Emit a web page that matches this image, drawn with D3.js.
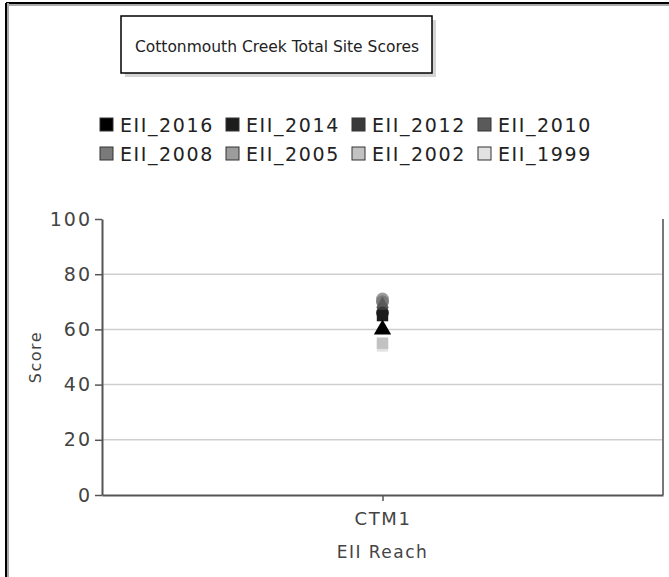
<!DOCTYPE html>
<html>
<head>
<meta charset="utf-8">
<script src="https://cdn.jsdelivr.net/npm/d3@7"></script>
<style>
  body { margin: 0; background: #fff; }
  text { font-family: "DejaVu Sans", sans-serif; }
</style>
</head>
<body>
<div id="chart"></div>
<script>
// chart values
var title = "Cottonmouth Creek Total Site Scores";
var seriesNames = ["EII_2016", "EII_2014", "EII_2012", "EII_2010", "EII_2008", "EII_2005", "EII_2002", "EII_1999"];
var sites = ["CTM1"];
var scores = [60, 65, 66, 68, 70, 71, 55, 54];
var yTicks = [0, 20, 40, 60, 80, 100];
var xTitle = "EII Reach";
var yTitle = "Score";

(function() {
  var width = 669, height = 577;
  var plot = { left: 102, right: 663, top: 219, bottom: 495 };

  var svg = d3.select("#chart")
    .append("svg")
    .attr("width", width)
    .attr("height", height);

  // outer frame (top + left edges visible)
  svg.append("line").attr("x1", 6).attr("x2", width).attr("y1", 5).attr("y2", 5)
    .attr("stroke", "#aaa").attr("stroke-width", 2);
  svg.append("line").attr("x1", 6).attr("x2", width).attr("y1", 3).attr("y2", 3)
    .attr("stroke", "#000").attr("stroke-width", 2);
  svg.append("line").attr("x1", 8).attr("x2", 8).attr("y1", 3).attr("y2", height)
    .attr("stroke", "#aaa").attr("stroke-width", 2);
  svg.append("line").attr("x1", 6).attr("x2", 6).attr("y1", 3).attr("y2", height)
    .attr("stroke", "#000").attr("stroke-width", 2);

  // title box with shadow
  svg.append("rect").attr("x", 125).attr("y", 20).attr("width", 311).attr("height", 57)
    .attr("fill", "#d4d4d4");
  svg.append("rect").attr("x", 121).attr("y", 16).attr("width", 311).attr("height", 57)
    .attr("fill", "#fff").attr("stroke", "#000").attr("stroke-width", 1.5);
  svg.append("text")
    .attr("x", 277).attr("y", 52)
    .attr("text-anchor", "middle")
    .attr("font-size", 15.5)
    .attr("fill", "#222")
    .text(title);

  // scales
  var yScale = d3.scaleLinear()
    .domain([0, 100])
    .range([plot.bottom, plot.top]);

  var xScale = d3.scalePoint()
    .domain(sites)
    .range([plot.left, plot.right])
    .padding(0.5);

  var colorScale = d3.scaleOrdinal()
    .domain(seriesNames)
    .range(["#000000", "#1c1c1c", "#3a3a3a", "#5a5a5a", "#7a7a7a", "#9c9c9c", "#c2c2c2", "#e2e2e2"]);

  var shapeScale = d3.scaleOrdinal()
    .domain(seriesNames)
    .range([d3.symbolTriangle, d3.symbolSquare, d3.symbolCircle, d3.symbolDiamond,
            d3.symbolCircle, d3.symbolCircle, d3.symbolSquare, d3.symbolSquare]);

  // legend
  var legend = svg.append("g").attr("class", "legend");
  var item = legend.selectAll("g")
    .data(seriesNames)
    .enter().append("g")
    .attr("transform", function(d, i) {
      return "translate(" + (100 + (i % 4) * 126) + "," + (118 + Math.floor(i / 4) * 29) + ")";
    });
  item.append("rect")
    .attr("width", 13).attr("height", 13)
    .attr("fill", function(d) { return colorScale(d); })
    .attr("stroke", "#333").attr("stroke-width", 1);
  item.append("text")
    .attr("x", 20).attr("y", 13.5)
    .attr("font-size", 19)
    .attr("letter-spacing", 1.6)
    .attr("fill", "#222")
    .text(function(d) { return d; });

  // gridlines
  svg.append("g")
    .selectAll("line")
    .data(yTicks.filter(function(t) { return t > 0 && t < 100; }))
    .enter().append("line")
    .attr("x1", plot.left).attr("x2", plot.right)
    .attr("y1", function(d) { return yScale(d); })
    .attr("y2", function(d) { return yScale(d); })
    .attr("stroke", "#cfcfcf").attr("stroke-width", 1.5);

  // plot right border
  svg.append("line")
    .attr("x1", plot.right).attr("x2", plot.right)
    .attr("y1", plot.top).attr("y2", plot.bottom)
    .attr("stroke", "#777").attr("stroke-width", 2);

  // axes
  var yAxis = d3.axisLeft(yScale).tickValues(yTicks).tickSize(7).tickSizeOuter(0).tickPadding(3);
  var gy = svg.append("g")
    .attr("class", "axis y-axis")
    .attr("transform", "translate(" + plot.left + ",0)")
    .call(yAxis);
  gy.select(".domain").attr("stroke", "#555").attr("stroke-width", 2);
  gy.selectAll(".tick line").attr("stroke", "#555").attr("stroke-width", 1.5);
  gy.selectAll(".tick text")
    .attr("font-size", 19).attr("font-family", "DejaVu Sans").attr("fill", "#444")
    .attr("letter-spacing", 2);

  var xAxis = d3.axisBottom(xScale).tickSize(6).tickSizeOuter(0).tickPadding(11);
  var gx = svg.append("g")
    .attr("class", "axis x-axis")
    .attr("transform", "translate(0," + plot.bottom + ")")
    .call(xAxis);
  gx.select(".domain").attr("stroke", "#555").attr("stroke-width", 2);
  gx.selectAll(".tick line").attr("stroke", "#555").attr("stroke-width", 1.5);
  gx.selectAll(".tick text")
    .attr("font-size", 18).attr("font-family", "DejaVu Sans").attr("fill", "#444")
    .attr("letter-spacing", 1.6);

  // axis titles
  svg.append("text")
    .attr("x", (plot.left + plot.right) / 2).attr("y", 558)
    .attr("text-anchor", "middle")
    .attr("font-size", 17).attr("fill", "#444")
    .attr("letter-spacing", 1.5)
    .text(xTitle);

  svg.append("text")
    .attr("transform", "translate(41," + ((plot.top + plot.bottom) / 2) + ") rotate(-90)")
    .attr("text-anchor", "middle")
    .attr("font-size", 16).attr("fill", "#444")
    .attr("letter-spacing", 1.5)
    .text(yTitle);

  // markers (drawn so 2016 ends on top)
  var pts = seriesNames.map(function(name, i) {
    return { name: name, site: sites[0], value: scores[i] };
  }).reverse();

  svg.append("g")
    .selectAll("path")
    .data(pts)
    .enter().append("path")
    .attr("d", function(d) { return d3.symbol().type(shapeScale(d.name)).size(130)(); })
    .attr("transform", function(d) {
      return "translate(" + xScale(d.site) + "," + yScale(d.value) + ")";
    })
    .attr("fill", function(d) { return colorScale(d.name); });
})();
</script>
</body>
</html>
